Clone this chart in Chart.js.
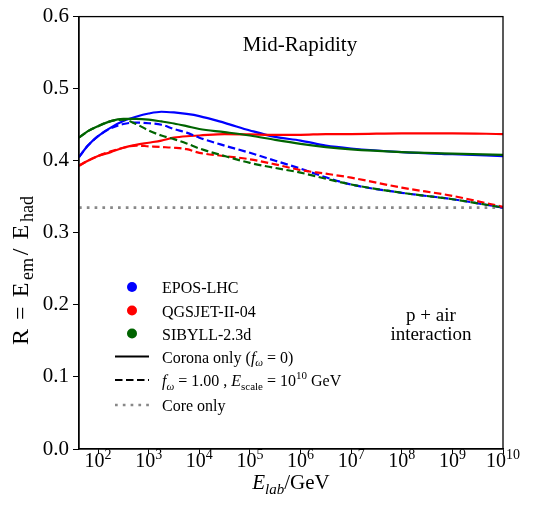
<!DOCTYPE html>
<html>
<head>
<meta charset="utf-8">
<script src="https://cdn.jsdelivr.net/npm/chart.js@4"></script>
<style>
  html, body { margin: 0; padding: 0; background: #fff; }
  #chart { display: block; }
</style>
</head>
<body>
<canvas id="chart" width="536" height="505"></canvas>
<script>
/* ==================================================
   R = Eem/Ehad vs Elab (Mid-Rapidity)
   ================================================== */

// エネルギー (GeV)
const energies = [42, 63, 100, 178, 316, 562, 1e3, 1.78e3, 3.16e3, 5.62e3, 1e4, 3.16e4, 1e5, 3.16e5, 1e6, 3.16e6, 1e7, 1e8, 1e9, 1e10];

// Corona only (実線)
const eposSolid   = [0.405, 0.421, 0.434, 0.446, 0.455, 0.461, 0.4655, 0.468, 0.467, 0.465, 0.462, 0.4525, 0.442, 0.433, 0.428, 0.421, 0.417, 0.412, 0.409, 0.4065];
const qgsjetSolid = [0.393, 0.400, 0.4065, 0.412, 0.418, 0.422, 0.425, 0.428, 0.432, 0.434, 0.435, 0.437, 0.4365, 0.436, 0.436, 0.437, 0.437, 0.438, 0.438, 0.437];
const sibyllSolid = [0.432, 0.441, 0.448, 0.455, 0.458, 0.458, 0.457, 0.4545, 0.4517, 0.448, 0.444, 0.4397, 0.435, 0.429, 0.4235, 0.419, 0.4157, 0.412, 0.410, 0.408];

// f_omega = 1.00 (破線)
const eposDashed   = [0.405, 0.421, 0.434, 0.445, 0.451, 0.453, 0.452, 0.450, 0.444, 0.439, 0.432, 0.421, 0.411, 0.400, 0.389, 0.377, 0.367, 0.3555, 0.3466, 0.335];
const qgsjetDashed = [0.393, 0.400, 0.4065, 0.413, 0.418, 0.421, 0.420, 0.419, 0.418, 0.416, 0.411, 0.4065, 0.402, 0.395, 0.387, 0.382, 0.3765, 0.3627, 0.3512, 0.336];
const sibyllDashed = [0.432, 0.441, 0.448, 0.455, 0.457, 0.451, 0.442, 0.435, 0.430, 0.424, 0.417, 0.4065, 0.397, 0.390, 0.3835, 0.375, 0.367, 0.3555, 0.3466, 0.335];

// Core only (点線)
const coreEnergies = [42, 1e10];
const coreOnly = [0.335, 0.335];

const models = ['EPOS-LHC', 'QGSJET-II-04', 'SIBYLL-2.3d'];
const modelColors = ['#0000ff', '#ff0000', '#006400'];

// 軸目盛
const xTickValues = [1e2, 1e3, 1e4, 1e5, 1e6, 1e7, 1e8, 1e9, 1e10];
const xTickExps = ['2', '3', '4', '5', '6', '7', '8', '9', '10'];
const yTickValues = [0.0, 0.1, 0.2, 0.3, 0.4, 0.5, 0.6];

const FONT = '"Liberation Serif", "Times New Roman", serif';

function toPoints(xs, ys) {
    return xs.map((x, i) => ({ x: x, y: ys[i] }));
}

function lineSet(label, ys, color, dashed, order) {
    return {
        label: label,
        data: toPoints(energies, ys),
        borderColor: color,
        borderWidth: 2.2,
        borderDash: dashed ? [7.5, 3.5] : [],
        pointRadius: 0,
        cubicInterpolationMode: 'monotone',
        fill: false,
        order: order
    };
}

function fontFor(k, size, subScale) {
    const small = k.length > 1;
    const it = k[0] === 'i';
    return (it ? 'italic ' : '') + (small ? Math.round(size * (subScale || 0.7)) : size) + 'px ' + FONT;
}

function shiftFor(k, size) {
    if (k[1] === 's') return size * 0.22;
    if (k[1] === 'p') return -size * 0.42;
    return 0;
}

/**
 * 下付き・上付きを含むテキスト描画
 * parts: [text, kind]  kind: r=roman, i=italic, rs/is=sub, rp=sup
 */
function drawRich(ctx, parts, x, y, size, align) {
    let w = 0;
    parts.forEach(([t, k]) => { ctx.font = fontFor(k, size); w += ctx.measureText(t).width; });
    let cx = align === 'center' ? x - w / 2 : x;
    ctx.textAlign = 'left';
    ctx.textBaseline = 'alphabetic';
    parts.forEach(([t, k]) => {
        ctx.font = fontFor(k, size);
        ctx.fillText(t, cx, y + shiftFor(k, size));
        cx += ctx.measureText(t).width;
    });
}

/**
 * 縦軸タイトル用: 各パーツ間の間隔を広げて指定長に合わせる
 */
function drawRichFit(ctx, parts, x, y, size, length) {
    const sub = 0.75;
    const widths = parts.map(([t, k]) => { ctx.font = fontFor(k, size, sub); return ctx.measureText(t).width; });
    const w = widths.reduce((s, v) => s + v, 0);
    const gap = (length - w) / (parts.length - 1);
    let cx = x - length / 2;
    ctx.textAlign = 'left';
    ctx.textBaseline = 'alphabetic';
    parts.forEach(([t, k], i) => {
        ctx.font = fontFor(k, size, sub);
        ctx.fillText(t, cx, y + shiftFor(k, size));
        cx += widths[i] + (k.length > 1 || (parts[i + 1] && parts[i + 1][1].length > 1) ? gap * 0.3 : gap);
    });
}

const decorPlugin = {
    id: 'decor',
    afterDraw(chart) {
        const ctx = chart.ctx;
        const a = chart.chartArea;
        const xs = chart.scales.x;
        ctx.save();
        ctx.fillStyle = '#000';

        // 枠線
        ctx.strokeStyle = '#000';
        ctx.lineWidth = 1.3;
        ctx.strokeRect(a.left, a.top, a.right - a.left, a.bottom - a.top);

        // x 目盛ラベル
        xTickValues.forEach((v, i) => {
            const px = xs.getPixelForValue(v);
            drawRich(ctx, [['10', 'r'], [xTickExps[i], 'rp']], px, 467, 20, 'center');
        });

        // 軸タイトル
        drawRich(ctx, [['E', 'i'], ['lab', 'is'], ['/GeV', 'r']], (a.left + a.right) / 2, 489, 21, 'center');
        ctx.save();
        ctx.translate(28, 261);
        ctx.rotate(-Math.PI / 2);
        drawRichFit(ctx, [['R', 'r'], ['=', 'r'], ['E', 'r'], ['em', 'rs'], ['/', 'r'], ['E', 'r'], ['had', 'rs']], 0, 0, 24, 168);
        ctx.restore();

        // タイトル・注記
        drawRich(ctx, [['Mid-Rapidity', 'r']], 300, 51, 21, 'center');
        drawRich(ctx, [['p + air', 'r']], 431, 321, 19, 'center');
        drawRich(ctx, [['interaction', 'r']], 431, 340, 19, 'center');

        // 凡例
        const lx0 = 115, lx1 = 149, tx = 162;
        const rowY = [287, 310.5, 333.5, 356.5, 380, 405];
        models.forEach((m, i) => {
            ctx.fillStyle = modelColors[i];
            ctx.beginPath();
            ctx.arc(132, rowY[i], 5, 0, Math.PI * 2);
            ctx.fill();
            ctx.fillStyle = '#000';
            drawRich(ctx, [[m, 'r']], tx, rowY[i] + 6, 16, 'left');
        });
        const styles = [[[], '#000'], [[7.5, 3.5], '#000'], [[2.7, 5.1], '#888']];
        styles.forEach(([dash, col], j) => {
            const yy = rowY[3 + j];
            ctx.strokeStyle = col;
            ctx.lineWidth = j === 2 ? 2.7 : 2.2;
            ctx.setLineDash(dash);
            ctx.beginPath();
            ctx.moveTo(lx0, yy);
            ctx.lineTo(lx1, yy);
            ctx.stroke();
        });
        ctx.setLineDash([]);
        ctx.fillStyle = '#000';
        drawRich(ctx, [['Corona only (', 'r'], ['f', 'i'], ['ω', 'is'], [' = 0)', 'r']], tx, rowY[3] + 6, 16, 'left');
        drawRich(ctx, [['f', 'i'], ['ω', 'is'], [' = 1.00 , ', 'r'], ['E', 'i'], ['scale', 'rs'], [' = 10', 'r'], ['10', 'rp'], [' GeV', 'r']], tx, rowY[4] + 6, 16, 'left');
        drawRich(ctx, [['Core only', 'r']], tx, rowY[5] + 6, 16, 'left');

        ctx.restore();
    }
};

const ctx = document.getElementById('chart').getContext('2d');
new Chart(ctx, {
    type: 'line',
    data: {
        datasets: [
            lineSet(models[0], eposSolid, modelColors[0], false, 6),
            lineSet(models[1], qgsjetSolid, modelColors[1], false, 5),
            lineSet(models[2], sibyllSolid, modelColors[2], false, 4),
            lineSet(models[0], eposDashed, modelColors[0], true, 3),
            lineSet(models[1], qgsjetDashed, modelColors[1], true, 2),
            lineSet(models[2], sibyllDashed, modelColors[2], true, 1),
            {
                label: 'Core only',
                data: toPoints(coreEnergies, coreOnly),
                borderColor: '#888888',
                borderWidth: 2.7,
                borderDash: [2.7, 5.1],
                pointRadius: 0,
                fill: false,
                order: 7
            }
        ]
    },
    options: {
        responsive: false,
        animation: false,
        layout: { padding: { top: 15, right: 33, left: 0, bottom: 0 } },
        plugins: {
            legend: { display: false },
            tooltip: { enabled: false }
        },
        scales: {
            x: {
                type: 'logarithmic',
                min: 42,
                max: 1e10,
                afterBuildTicks: s => { s.ticks = xTickValues.map(v => ({ value: v })); },
                afterFit: s => { s.height = 56; },
                ticks: { display: false },
                grid: { drawOnChartArea: false, drawTicks: true, tickLength: 5, color: '#000', lineWidth: 1 },
                border: { display: true, color: '#000', width: 1.3 }
            },
            y: {
                min: 0,
                max: 0.6,
                afterBuildTicks: s => { s.ticks = yTickValues.map(v => ({ value: v })); },
                afterFit: s => { s.width = 79; },
                ticks: {
                    color: '#000',
                    padding: 4,
                    font: { family: FONT, size: 21 },
                    callback: v => v.toFixed(1)
                },
                grid: { drawOnChartArea: false, drawTicks: true, tickLength: 6, color: '#000', lineWidth: 1 },
                border: { display: true, color: '#000', width: 1.3 }
            }
        }
    },
    plugins: [decorPlugin]
});
</script>
</body>
</html>
